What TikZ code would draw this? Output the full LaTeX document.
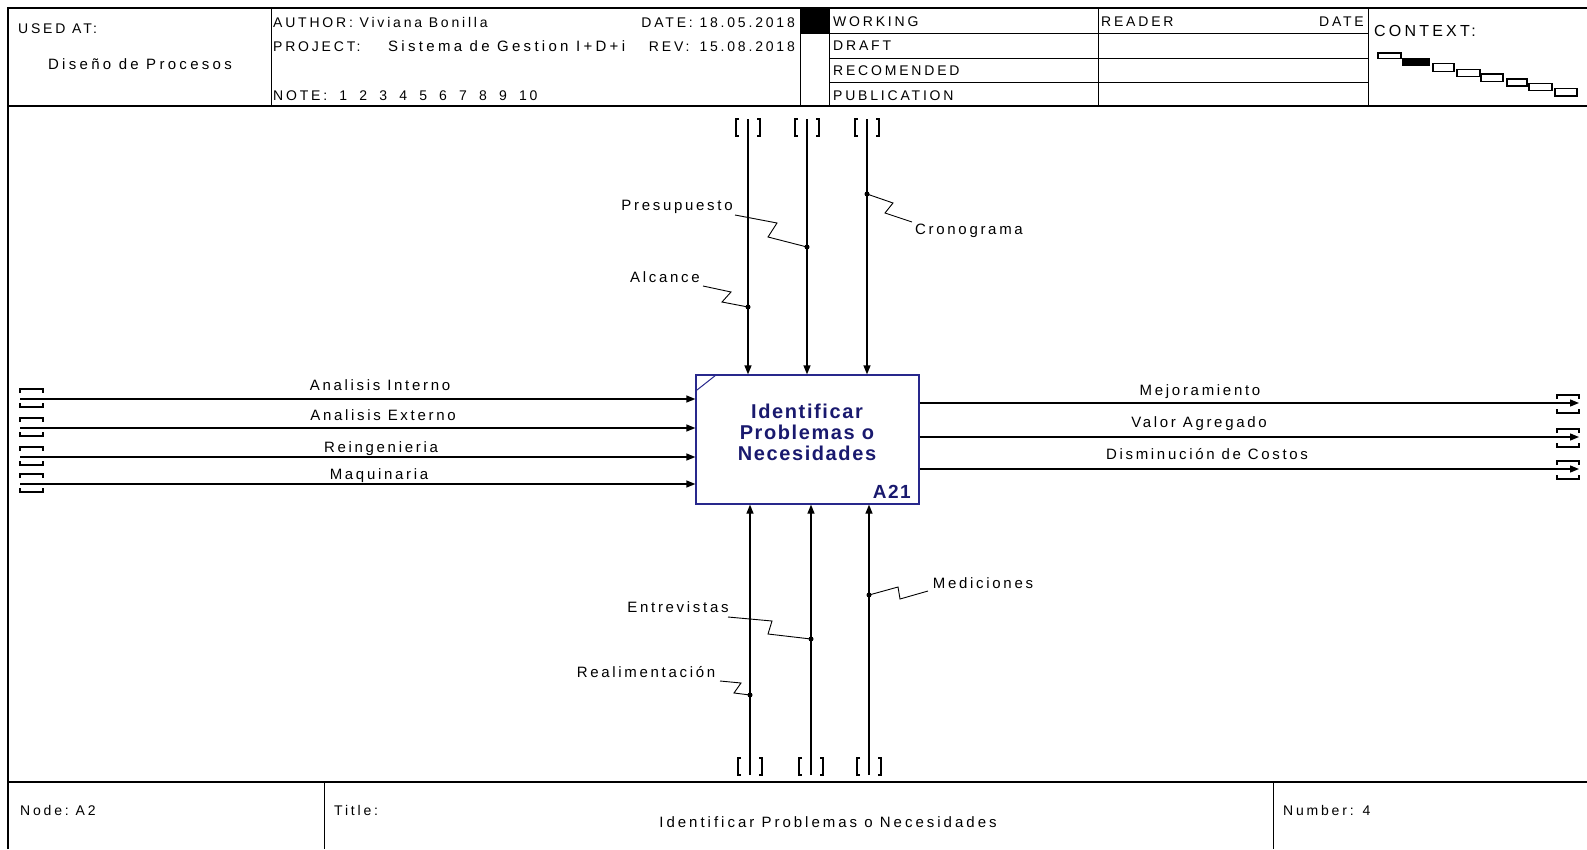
\documentclass[tikz,border=0pt]{standalone}
\usepackage{fontspec}
\setmainfont{Liberation Sans}[LetterSpace=20]
\newfontfamily\lblfont{Liberation Sans}[LetterSpace=18]
\newfontfamily\widefont{Liberation Sans}[LetterSpace=22]
\newfontfamily\titlefont{Liberation Sans}[LetterSpace=8]
\usetikzlibrary{arrows.meta}
\definecolor{navy}{RGB}{25,25,110}
\definecolor{boxline}{RGB}{40,40,140}
\newcommand{\gap}{\hspace{5.5pt} }
\tikzset{
  frame/.style={line width=1.4pt},
  grid/.style={line width=1pt},
  flow/.style={line width=1.3pt,-{Triangle[length=9pt,width=7pt]}},
  squig/.style={line width=0.9pt},
  dotm/.style={circle,fill,inner sep=0pt,minimum size=5pt},
  txt/.style={inner sep=0pt,font=\fontsize{14}{16}\selectfont},
  hd/.style={txt,anchor=base west},
  hde/.style={txt,anchor=base east},
  lbl/.style={inner sep=0pt,anchor=base,font=\lblfont\fontsize{15}{17}\selectfont},
  tunnel/.style={line width=1.1pt},
  ctx/.style={line width=1.1pt,draw=black},
}
\begin{document}
\begin{tikzpicture}[x=1pt,y=-1pt]
\useasboundingbox (0,0) rectangle (1587,849);
% frame
\draw[frame] (8,849) -- (8,8) -- (1587,8);
\draw[frame] (8,106) -- (1587,106);
\draw[frame] (8,782) -- (1587,782);
% header columns
\foreach \x in {271,800,829,1098,1368} \draw[grid] (\x,8) -- (\x,106);
\foreach \y in {33.5,58,82} \draw[grid] (829,\y) -- (1368,\y);
\fill (800,8) rectangle (829,33.5);
% footer columns
\draw[grid] (324,782) -- (324,849);
\draw[grid] (1273,782) -- (1273,849);
% header texts
\node[hd] (usedat) at (18,33.4) {USED AT:};
\node[txt,anchor=base,font=\widefont\fontsize{15}{17}\selectfont] (diseno) at (140,69.8) {Diseño de Procesos};
\node[hd] (author) at (273,27.3) {AUTHOR: Viviana Bonilla};
\node[hde] (date) at (795,27.3) {DATE: 18.05.2018};
\node[hd] (project) at (273,51.6) {PROJECT:};
\node[hd,font=\widefont\fontsize{15}{17}\selectfont] (sistema) at (388,51.6) {Sistema de Gestion I+D+i};
\node[hde] (rev) at (795,51.6) {REV:\hspace{10pt}15.08.2018};
\node[hd] (note) at (273,100.2) {NOTE:\gap 1\gap 2\gap 3\gap 4\gap 5\gap 6\gap 7\gap 8\gap 9\gap 10};
\node[hd] (working) at (833,26.3) {WORKING};
\node[hd] (draft) at (833,50.6) {DRAFT};
\node[hd] (recom) at (833,75.9) {RECOMENDED};
\node[hd] (public) at (833,100.2) {PUBLICATION};
\node[hd] (reader) at (1101,26.3) {READER};
\node[hde] (rdate) at (1364,26.3) {DATE};
\node[hd,font=\fontsize{16}{18}\selectfont] (context) at (1374,36.4) {CONTEXT:};
% context boxes
\draw[ctx,fill=white] (1378,53) rectangle (1401,58.5);
\draw[ctx,fill=black] (1403,59) rectangle (1429,65.5);
\draw[ctx,fill=white] (1433,63.5) rectangle (1454,71.5);
\draw[ctx,fill=white] (1457,69.5) rectangle (1480,76.5);
\draw[ctx,fill=white] (1481,74) rectangle (1503,81.5);
\draw[ctx,fill=white] (1507,79) rectangle (1527,86);
\draw[ctx,fill=white] (1529,83.5) rectangle (1552,90.5);
\draw[ctx,fill=white] (1555,88.5) rectangle (1577,96);
% footer texts
\node[hd] (nodelbl) at (20,815) {Node:\enspace A2};
\node[hd] (titlelbl) at (334,815) {Title:};
\node[txt,anchor=base,font=\fontsize{15}{17}\selectfont] (titletxt) at (828,827) {Identificar Problemas o Necesidades};
\node[hd] (number) at (1283,815) {Number: 4};
% activity box
\node[draw=boxline,line width=1.3pt,minimum width=223pt,minimum height=129pt,inner sep=0pt] (box) at (807.5,439.5) {};
\draw[boxline,line width=1pt] (697,390) -- (716,375);
\node[inner sep=0pt,align=center,text=navy,font=\titlefont\bfseries\fontsize{20}{21}\selectfont] (boxtxt) at (807,432) {Identificar\\Problemas o\\Necesidades};
\node[anchor=base east,inner sep=0pt,text=navy,font=\titlefont\bfseries\fontsize{19}{21}\selectfont] (boxid) at (911,498) {A21};
% controls (top)
\foreach \n/\x in {c1/748,c2/807,c3/867}{
  \coordinate (\n) at (\x,119);
  \draw[tunnel] ({\x-9},119) -- ({\x-12},119) -- ({\x-12},136) -- ({\x-9},136);
  \draw[tunnel] ({\x+9},119) -- ({\x+12},119) -- ({\x+12},136) -- ({\x+9},136);
  \draw[flow] (\n) -- (\n |- box.north);
}
% mechanisms (bottom)
\foreach \n/\x in {m1/750,m2/811,m3/869}{
  \coordinate (\n) at (\x,775);
  \draw[tunnel] ({\x-9},758) -- ({\x-12},758) -- ({\x-12},775) -- ({\x-9},775);
  \draw[tunnel] ({\x+9},758) -- ({\x+12},758) -- ({\x+12},775) -- ({\x+9},775);
  \draw[flow] (\n) -- (\n |- box.south);
}
% inputs (left)
\foreach \n/\y in {i1/399,i2/428,i3/457,i4/484}{
  \coordinate (\n) at (20,\y);
  \draw[tunnel] (20,{\y-6}) -- (20,{\y-10}) -- (43,{\y-10}) -- (43,{\y-6});
  \draw[tunnel] (20,{\y+4}) -- (20,{\y+8}) -- (43,{\y+8}) -- (43,{\y+4});
  \draw[flow] (\n) -- (\n -| box.west);
}
% outputs (right)
\foreach \n/\y in {o1/403,o2/437,o3/469}{
  \coordinate (\n) at (1579,\y);
  \draw[tunnel] (1557,{\y-4}) -- (1557,{\y-8}) -- (1579,{\y-8}) -- (1579,{\y-4});
  \draw[tunnel] (1557,{\y+6}) -- (1557,{\y+10}) -- (1579,{\y+10}) -- (1579,{\y+6});
  \draw[flow] (box.east |- \n) -- (\n);
}
% arrow labels
\node[lbl] (l1) at (380,390) {Analisis Interno};
\node[lbl] (l2) at (383,420) {Analisis Externo};
\node[lbl] (l3) at (381,452) {Reingenieria};
\node[lbl] (l4) at (379,479) {Maquinaria};
\node[lbl] (r1) at (1200,395) {Mejoramiento};
\node[lbl] (r2) at (1199,427) {Valor Agregado};
\node[lbl] (r3) at (1207,459) {Disminución de Costos};
% squiggle labels
\node[lbl] (presu) at (677,210) {Presupuesto};
\node[lbl] (alc) at (665,282) {Alcance};
\node[lbl] (crono) at (969,234) {Cronograma};
\node[lbl] (medi) at (983,588) {Mediciones};
\node[lbl] (entre) at (678,612.5) {Entrevistas};
\node[lbl] (reali) at (646,677) {Realimentación};
% squiggles
\coordinate (sp) at (735,215); \coordinate (dp) at (807,247);
\draw[squig] (sp) -- (777,223) -- (768,237) -- (dp); \node[dotm] at (dp) {};
\coordinate (sa) at (703,286); \coordinate (da) at (748,307);
\draw[squig] (sa) -- (731,292) -- (722,302) -- (da); \node[dotm] at (da) {};
\coordinate (dc) at (867,194); \coordinate (sc) at (912,222);
\draw[squig] (dc) -- (893,203) -- (885,213) -- (sc); \node[dotm] at (dc) {};
\coordinate (dm) at (869,595); \coordinate (sm) at (928,591);
\draw[squig] (dm) -- (898,587) -- (900,599) -- (sm); \node[dotm] at (dm) {};
\coordinate (se) at (728,617); \coordinate (de) at (811,639);
\draw[squig] (se) -- (772,621) -- (768,634) -- (de); \node[dotm] at (de) {};
\coordinate (sr) at (720,681); \coordinate (dr) at (750,695);
\draw[squig] (sr) -- (741,683) -- (734,693) -- (dr); \node[dotm] at (dr) {};
\end{tikzpicture}
\end{document}
